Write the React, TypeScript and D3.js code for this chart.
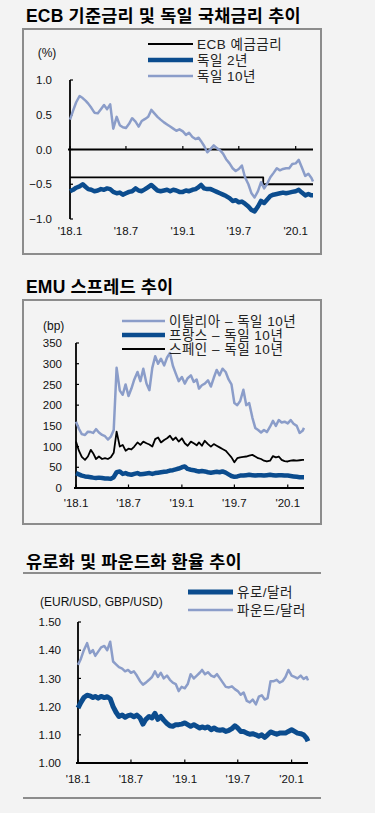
import React from "react";
import * as d3 from "d3";

// ---------- shared time axis ----------
const dates = [
  "2018-01-01","2018-01-11","2018-01-21","2018-02-01","2018-02-11","2018-02-21",
  "2018-03-01","2018-03-11","2018-03-21","2018-04-01","2018-04-11","2018-04-21",
  "2018-05-01","2018-05-11","2018-05-21","2018-06-01","2018-06-11","2018-06-21",
  "2018-07-01","2018-07-11","2018-07-21","2018-08-01","2018-08-11","2018-08-21",
  "2018-09-01","2018-09-11","2018-09-21","2018-10-01","2018-10-11","2018-10-21",
  "2018-11-01","2018-11-11","2018-11-21","2018-12-01","2018-12-11","2018-12-21",
  "2019-01-01","2019-01-11","2019-01-21","2019-02-01","2019-02-11","2019-02-21",
  "2019-03-01","2019-03-11","2019-03-21","2019-04-01","2019-04-11","2019-04-21",
  "2019-05-01","2019-05-11","2019-05-21","2019-06-01","2019-06-11","2019-06-21",
  "2019-07-01","2019-07-11","2019-07-21","2019-08-01","2019-08-11","2019-08-21",
  "2019-09-01","2019-09-11","2019-09-21","2019-10-01","2019-10-11","2019-10-21",
  "2019-11-01","2019-11-11","2019-11-21","2019-12-01","2019-12-11","2019-12-21",
  "2020-01-01","2020-01-11","2020-01-21","2020-02-01","2020-02-11","2020-02-21",
  "2020-02-26",
];
const xTickDates = ["2018-01-01", "2018-07-01", "2019-01-01", "2019-07-01", "2020-01-01"];
const xTickLabels = ["'18.1", "'18.7", "'19.1", "'19.7", "'20.1"];

// ---------- chart 1: ECB / Bund ----------
const rateTicks = [1.0, 0.5, 0.0, -0.5, -1.0];
const bund10y = [
  0.43, 0.56, 0.68, 0.77, 0.74, 0.70, 0.66, 0.60, 0.53, 0.52, 0.58, 0.64,
  0.58, 0.65, 0.30, 0.47, 0.35, 0.32, 0.31, 0.37, 0.45, 0.40, 0.33, 0.41,
  0.44, 0.47, 0.57, 0.52, 0.47, 0.43, 0.39, 0.36, 0.33, 0.30, 0.27, 0.29,
  0.26, 0.21, 0.24, 0.18, 0.15, 0.17, 0.12, 0.05, -0.04, 0.01, 0.06, 0.02,
  -0.01, -0.06, -0.14, -0.20, -0.27, -0.31, -0.28, -0.23, -0.40, -0.50, -0.63, -0.69,
  -0.60, -0.47, -0.56, -0.49, -0.40, -0.34, -0.27, -0.30, -0.28, -0.27, -0.27, -0.21,
  -0.20, -0.15, -0.26, -0.38, -0.35, -0.41, -0.46,
];
const bund2y = [
  -0.60, -0.58, -0.55, -0.53, -0.50, -0.54, -0.57, -0.58, -0.60, -0.59, -0.57, -0.58,
  -0.56, -0.57, -0.61, -0.63, -0.62, -0.65, -0.63, -0.61, -0.60, -0.56, -0.59, -0.60,
  -0.57, -0.54, -0.51, -0.55, -0.59, -0.60, -0.59, -0.58, -0.60, -0.58, -0.59, -0.61,
  -0.61, -0.59, -0.60, -0.58, -0.57, -0.54, -0.51, -0.56, -0.57, -0.57, -0.59, -0.61,
  -0.63, -0.65, -0.67, -0.70, -0.74, -0.73, -0.76, -0.75, -0.78, -0.82, -0.87, -0.89,
  -0.82, -0.74, -0.77, -0.72, -0.67, -0.65, -0.64, -0.63, -0.62, -0.63, -0.62, -0.61,
  -0.60, -0.58, -0.62, -0.66, -0.64, -0.66, -0.66,
];
const ecbDates = ["2018-01-01", "2019-09-18", "2020-02-26"];
const ecbRate = [-0.4, -0.5, -0.5];

// ---------- chart 2: EMU spreads ----------
const spreadTicks = [0, 50, 100, 150, 200, 250, 300, 350];
const italySpread = [
  160, 143, 130, 128, 136, 135, 133, 142, 134, 128, 125, 117,
  124, 140, 290, 235, 225, 250, 222, 240, 262, 280, 258, 288,
  252, 236, 290, 318, 300, 312, 296, 315, 326, 295, 276, 258,
  268, 252, 265, 272, 256, 262, 240, 248, 252, 260, 245, 266,
  285, 272, 288, 280, 262, 250, 205, 200, 210, 237, 200, 205,
  170, 145, 140, 134, 140, 135, 148, 162, 150, 164, 158, 160,
  156, 164, 155, 150, 133, 138, 145,
];
const franceSpread = [
  36, 33, 30, 28, 27, 26, 25, 24, 25, 24, 23, 23,
  22, 26, 38, 40, 34, 36, 33, 32, 34, 36, 33, 34,
  35, 36, 34, 36, 37, 38, 39, 40, 42, 43, 45, 47,
  50, 52, 46, 44, 43, 41, 40, 41, 40, 38, 37, 38,
  39, 38, 40, 37, 33, 29, 27, 28, 30, 30, 31, 32,
  31, 30, 31, 31, 30, 31, 32, 31, 30, 31, 31, 30,
  30, 29, 28, 27, 26, 26, 26,
];
const spainSpread = [
  112, 90, 75, 68, 76, 92, 84, 70, 76, 70, 72, 70,
  74, 85, 136, 100, 104, 90, 95, 93, 100, 110, 104, 112,
  108, 105, 100, 118, 122, 110, 116, 120, 126, 116, 122, 112,
  120, 108, 102, 112, 108, 103, 110, 102, 114, 106, 100, 106,
  102, 98, 94, 90, 82, 74, 62, 72, 74, 75, 76, 78,
  80, 76, 72, 70, 66, 64, 66, 77, 74, 76, 68, 65,
  64, 66, 67, 66, 67, 68, 68,
];

// ---------- chart 3: FX ----------
const fxTicks = [1.0, 1.1, 1.2, 1.3, 1.4, 1.5];
const eurUsd = [
  1.195, 1.215, 1.232, 1.240, 1.238, 1.232, 1.236, 1.230, 1.236, 1.232, 1.235, 1.228,
  1.200, 1.180, 1.165, 1.170, 1.162, 1.168, 1.170, 1.164, 1.170, 1.160, 1.138, 1.155,
  1.165, 1.160, 1.176, 1.155, 1.165, 1.152, 1.140, 1.132, 1.130, 1.136, 1.136, 1.138,
  1.142, 1.136, 1.130, 1.136, 1.130, 1.124, 1.128, 1.124, 1.128, 1.118, 1.124, 1.118,
  1.116, 1.118, 1.112, 1.116, 1.122, 1.132, 1.124, 1.112, 1.112, 1.106, 1.102, 1.104,
  1.100, 1.095, 1.100, 1.091, 1.100, 1.110, 1.106, 1.102, 1.106, 1.106, 1.106, 1.112,
  1.118, 1.112, 1.106, 1.104, 1.100, 1.088, 1.077,
];
const gbpUsd = [
  1.348, 1.370, 1.400, 1.425, 1.390, 1.400, 1.380, 1.395, 1.410, 1.415, 1.400, 1.430,
  1.360, 1.350, 1.340, 1.335, 1.325, 1.330, 1.320, 1.325, 1.310, 1.290, 1.278, 1.285,
  1.295, 1.305, 1.325, 1.305, 1.320, 1.300, 1.310, 1.295, 1.285, 1.280, 1.255, 1.270,
  1.265, 1.280, 1.315, 1.300, 1.310, 1.320, 1.330, 1.315, 1.322, 1.310, 1.305, 1.315,
  1.300, 1.285, 1.270, 1.268, 1.272, 1.262, 1.255, 1.242, 1.250, 1.220, 1.215, 1.225,
  1.208, 1.235, 1.240, 1.225, 1.230, 1.290, 1.290, 1.295, 1.285, 1.290, 1.305, 1.330,
  1.310, 1.305, 1.300, 1.310, 1.298, 1.305, 1.293,
];

// ---------- styling ----------
const DARK = "#0b4c8e";
const LIGHT = "#8b9dc9";
const BG = "#f3f3f3";
const FRAME = "#8c8c8c";
const FONT = "'Liberation Sans', Arial, 'Noto Sans CJK KR', sans-serif";

const parseDate = d3.timeParse("%Y-%m-%d");
const dateObjs = dates.map((d) => parseDate(d) as Date);
const timeDomain: [Date, Date] = [dateObjs[0], dateObjs[dateObjs.length - 1]];

type Series = {
  values: number[];
  dates: Date[];
  color: string;
  width: number;
  step?: boolean;
};

type PanelProps = {
  xRange: [number, number];
  yDomain: [number, number];
  yRange: [number, number];
  yTicks: number[];
  yFmt: (v: number) => string;
  yLabelX: number;
  xAxisValue: number;
  xLabelY: number;
  series: Series[];
};

function Panel(p: PanelProps) {
  const x = d3.scaleTime().domain(timeDomain).range(p.xRange);
  const y = d3.scaleLinear().domain(p.yDomain).range(p.yRange);
  const axisY = y(p.xAxisValue);
  const x0 = p.xRange[0];
  const yTop = Math.min(p.yRange[0], p.yRange[1]);
  const yBot = Math.max(p.yRange[0], p.yRange[1]);
  return (
    <g>
      {p.yTicks.map((t) => (
        <g key={"yt" + t}>
          <line x1={x0} x2={x0 + 3} y1={y(t)} y2={y(t)} stroke="#000" strokeWidth={1.2} />
          <text
            x={p.yLabelX}
            y={y(t)}
            dy="0.36em"
            textAnchor="end"
            fontFamily={FONT}
            fontSize={11.5}
            fill="#111"
          >
            {p.yFmt(t)}
          </text>
        </g>
      ))}
      {xTickDates.map((d, i) => {
        const xx = x(parseDate(d) as Date);
        return (
          <g key={"xt" + d}>
            <line x1={xx} x2={xx} y1={axisY} y2={axisY - 3.5} stroke="#000" strokeWidth={1.2} />
            <text
              x={xx}
              y={p.xLabelY}
              textAnchor="middle"
              fontFamily={FONT}
              fontSize={11.5}
              fill="#111"
            >
              {xTickLabels[i]}
            </text>
          </g>
        );
      })}
      <line x1={x0 - 2} x2={p.xRange[1]} y1={axisY} y2={axisY} stroke="#000" strokeWidth={1.8} />
      <line x1={x0} x2={x0} y1={yTop} y2={yBot} stroke="#000" strokeWidth={1.8} />
      {p.series.map((s, i) => {
        const gen = d3
          .line<number>()
          .x((_, j) => x(s.dates[j]))
          .y((v) => y(v))
          .curve(s.step ? d3.curveStepAfter : d3.curveLinear);
        return (
          <path
            key={"s" + i}
            d={gen(s.values) || ""}
            fill="none"
            stroke={s.color}
            strokeWidth={s.width}
            strokeLinejoin="round"
            strokeLinecap="butt"
          />
        );
      })}
    </g>
  );
}

function Legend(props: { x1: number; x2: number; items: { y: number; label: string; color: string; width: number }[] }) {
  return (
    <g>
      {props.items.map((it) => (
        <g key={it.label}>
          <line x1={props.x1} x2={props.x2} y1={it.y} y2={it.y} stroke={it.color} strokeWidth={it.width} />
          <text
            x={props.x2 + 4}
            y={it.y}
            dy="0.36em"
            fontFamily={FONT}
            fontSize={13.5}
            letterSpacing={0.5}
            fill="#222"
          >
            {it.label}
          </text>
        </g>
      ))}
    </g>
  );
}

function Title(props: { y: number; text: string }) {
  return (
    <text
      x={26}
      y={props.y}
      fontFamily={FONT}
      fontWeight="bold"
      fontSize={17.5}
      letterSpacing={0.2}
      fill="#000"
    >
      {props.text}
    </text>
  );
}

export default function App() {
  const ecbDateObjs = ecbDates.map((d) => parseDate(d) as Date);
  const fmt1 = d3.format(".1f");
  const fmt2 = d3.format(".2f");
  return (
    <div style={{ position: "absolute", left: 0, top: 0 }}>
      <svg width={375} height={813} style={{ display: "block" }}>
        <rect x={0} y={0} width={375} height={813} fill={BG} />

        {/* Chart 1 */}
        <Title y={22} text="ECB 기준금리 및 독일 국채금리 추이" />
        <rect x={23} y={29} width={298} height={225} fill="none" stroke={FRAME} strokeWidth={2} />
        <text x={47} y={57} textAnchor="middle" fontFamily={FONT} fontSize={12} fill="#111">(%)</text>
        <Panel
          xRange={[70, 313]}
          yDomain={[-1, 1]}
          yRange={[219, 80]}
          yTicks={rateTicks}
          yFmt={(v) => fmt1(v)}
          yLabelX={52}
          xAxisValue={0}
          xLabelY={235}
          series={[
            { values: ecbRate, dates: ecbDateObjs, color: "#000", width: 1.8, step: true },
            { values: bund2y, dates: dateObjs, color: DARK, width: 4.5 },
            { values: bund10y, dates: dateObjs, color: LIGHT, width: 2.5 },
          ]}
        />
        <Legend
          x1={148}
          x2={193}
          items={[
            { y: 44, label: "ECB 예금금리", color: "#000", width: 1.8 },
            { y: 60, label: "독일 2년", color: DARK, width: 4.5 },
            { y: 76, label: "독일 10년", color: LIGHT, width: 2.5 },
          ]}
        />

        {/* Chart 2 */}
        <Title y={293} text="EMU 스프레드 추이" />
        <rect x={23} y={300} width={298} height={224} fill="none" stroke={FRAME} strokeWidth={2} />
        <text x={43} y={330} fontFamily={FONT} fontSize={12} fill="#111">(bp)</text>
        <Panel
          xRange={[76, 304]}
          yDomain={[0, 350]}
          yRange={[488, 343]}
          yTicks={spreadTicks}
          yFmt={(v) => String(v)}
          yLabelX={62}
          xAxisValue={0}
          xLabelY={507}
          series={[
            { values: italySpread, dates: dateObjs, color: LIGHT, width: 2.5 },
            { values: franceSpread, dates: dateObjs, color: DARK, width: 4.5 },
            { values: spainSpread, dates: dateObjs, color: "#000", width: 1.8 },
          ]}
        />
        <Legend
          x1={122}
          x2={165}
          items={[
            { y: 321, label: "이탈리아 – 독일 10년", color: LIGHT, width: 2.5 },
            { y: 335, label: "프랑스 – 독일 10년", color: DARK, width: 4.5 },
            { y: 349, label: "스페인 – 독일 10년", color: "#000", width: 1.8 },
          ]}
        />

        {/* Chart 3 */}
        <Title y={568} text="유로화 및 파운드화 환율 추이" />
        <line x1={23} x2={321} y1={573} y2={573} stroke={FRAME} strokeWidth={2} />
        <line x1={23} x2={321} y1={798} y2={798} stroke={FRAME} strokeWidth={2} />
        <text x={40} y={606} fontFamily={FONT} fontSize={12} fill="#111">(EUR/USD, GBP/USD)</text>
        <Panel
          xRange={[78, 308]}
          yDomain={[1.0, 1.5]}
          yRange={[763, 622]}
          yTicks={fxTicks}
          yFmt={(v) => fmt2(v)}
          yLabelX={61}
          xAxisValue={1.0}
          xLabelY={783}
          series={[
            { values: eurUsd, dates: dateObjs, color: DARK, width: 5 },
            { values: gbpUsd, dates: dateObjs, color: LIGHT, width: 2.5 },
          ]}
        />
        <Legend
          x1={188}
          x2={233}
          items={[
            { y: 592, label: "유로/달러", color: DARK, width: 5 },
            { y: 610, label: "파운드/달러", color: LIGHT, width: 2.5 },
          ]}
        />
      </svg>
    </div>
  );
}
